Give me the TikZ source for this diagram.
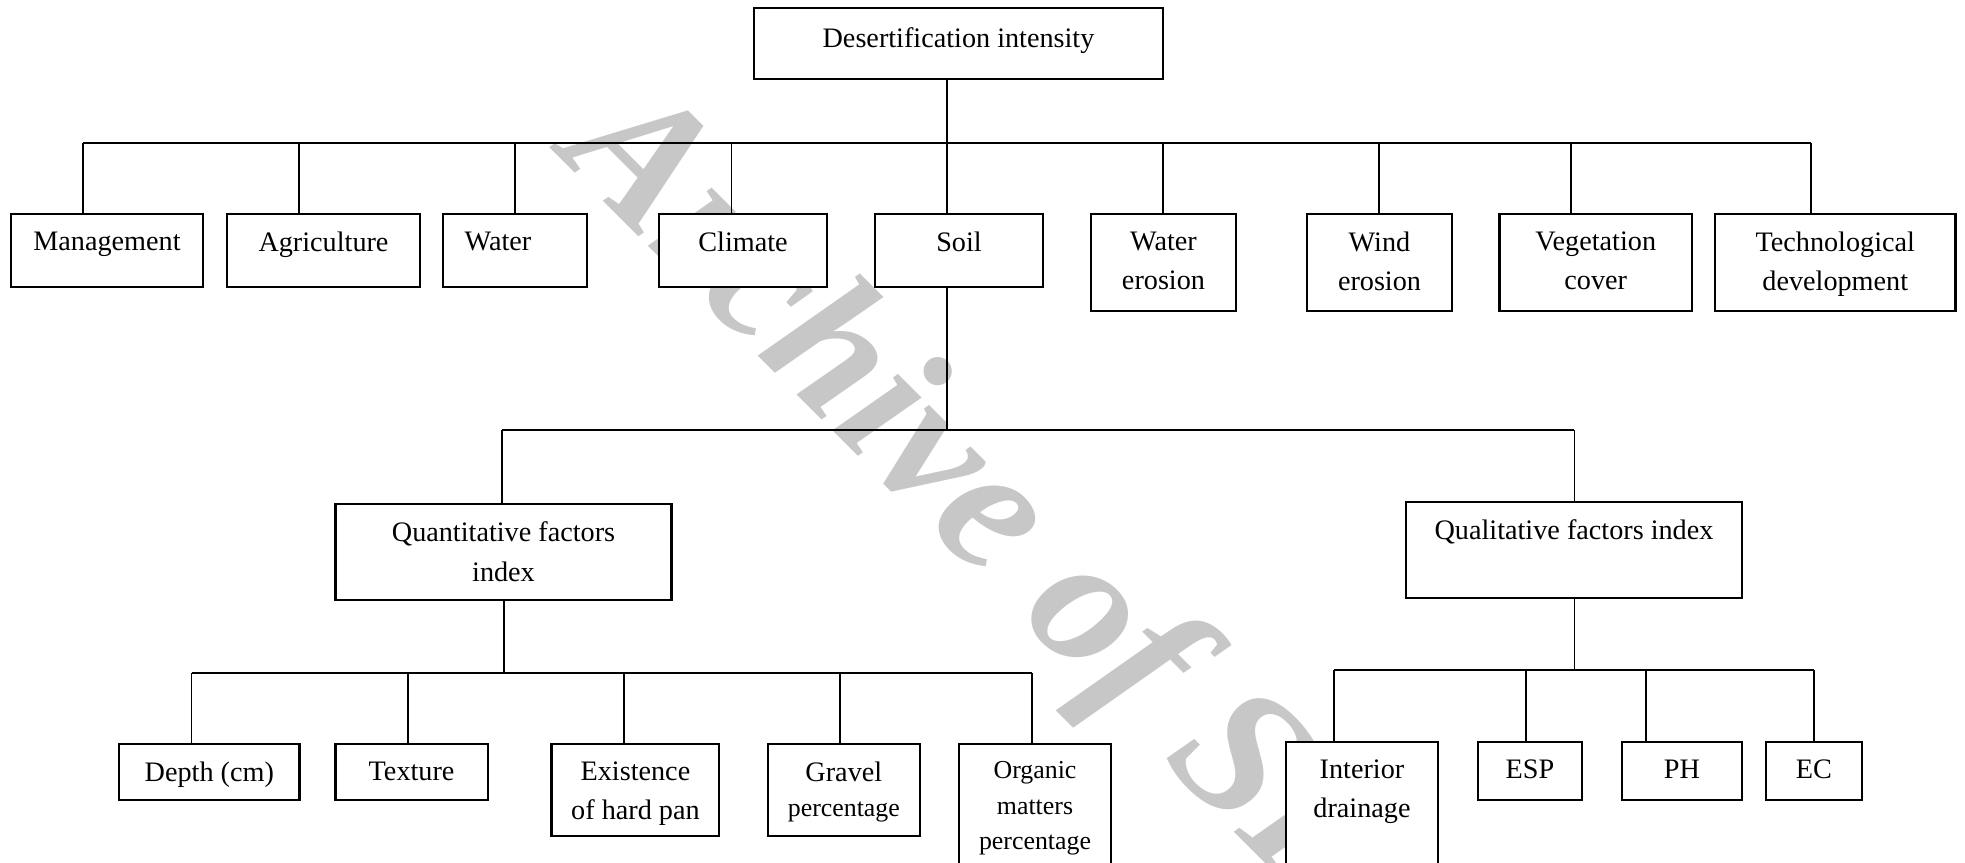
\documentclass[tikz,border=0pt]{standalone}
\usepackage{fontspec}
\setmainfont{Liberation Serif}
\newcommand{\pxunit}{0.4255pt}
\tikzset{
  factorbox/.style={draw, fill=white, line width=1pt, inner sep=0pt},
  factortext/.style={anchor=north, align=center, inner sep=0pt,
    font=\fontsize{12}{16.8}\selectfont},
  branch/.style={line width=0.75pt},
  watermark/.style={anchor=base west, rotate=-45, inner sep=0pt,
    text=black!22, font=\fontsize{80}{80}\selectfont\bfseries\itshape}
}
% box with its text set near the top edge
\newcommand{\factor}[7][]{%
  \node[factorbox, minimum width={(#5-#3)*\pxunit},
        minimum height={(#6-#4)*\pxunit}]
    (#2) at ({(#3+#5)/2},{(#4+#6)/2}) {};
  \node[factortext, #1] (#2-t) at ([yshift=-18.5*\pxunit]#2.north) {#7};
}
\begin{document}
\begin{tikzpicture}[x=\pxunit, y=-\pxunit]

  \path[use as bounding box] (0,0) rectangle (1965,862);
  \clip (0,0) rectangle (1965,862);

  \node[watermark] (wm) at (556,154) {Archive of SID};

  % trunks and buses
  \coordinate (rootB) at (947,142.7);
  \coordinate (soilB) at (947,430);
  \coordinate (quantB) at (504,672.7);
  \coordinate (qualB) at (1574.4,670);

  % root
  \factor[yshift=-2*\pxunit]{top}{754}{8}{1163}{79}{Desertification intensity}

  % first level
  \factor{mgmt}{11}{214}{203}{287}{Management}
  \factor{agri}{227}{214}{420}{287}{Agriculture}
  \factor[xshift=-17*\pxunit]{water}{443}{214}{587}{287}{Water}
  \factor{climate}{659}{214}{827}{287}{Climate}
  \factor{soil}{875}{214}{1043}{287}{Soil}
  \factor{werosion}{1091}{214}{1236}{311}{Water\\erosion}
  \factor{wind}{1307}{214}{1452}{311}{Wind\\erosion}
  \factor{veg}{1499.5}{214}{1692}{311}{Vegetation\\cover}
  \factor{tech}{1715}{214}{1955.5}{311}{Technological\\development}

  % soil indices
  \factor{quant}{335.4}{504}{671.6}{600}{Quantitative factors\\index}
  \factor{qual}{1406}{502}{1742}{598}{Qualitative factors index}

  % quantitative factors
  \factor{depth}{119}{744}{299.6}{800}{Depth (cm)}
  \factor{texture}{335.4}{744}{487.7}{800}{Texture}
  \factor{exist}{551.6}{744}{719.3}{836}{Existence\\of hard pan}
  \factor{gravel}{767.7}{744}{920}{836}%
    {Gravel\\[-1.8pt]{\fontsize{11}{15}\selectfont percentage}}
  \factor[font=\fontsize{11}{15}\selectfont]{organic}{959}{744}{1111}{900}%
    {Organic\\matters\\percentage}

  % qualitative factors
  \factor{interior}{1286}{742}{1438}{900}{Interior\\drainage}
  \factor{esp}{1478}{742}{1582}{800}{ESP}
  \factor{ph}{1622}{742}{1742}{800}{PH}
  \factor{ec}{1766}{742}{1862}{800}{EC}

  \draw[branch] (top.south -| rootB) -- (rootB);
  \draw[branch] (soil.south -| soilB) -- (soilB);
  \draw[branch] (quant.south -| quantB) -- (quantB);
  \draw[branch] (qual.south -| qualB) -- (qualB);

  % buses and drops
  \foreach \n/\x in {mgmt/83, agri/299, water/515, climate/731.5, soil/947,
                     werosion/1163, wind/1379, veg/1571, tech/1811}
    \draw[branch] (\x,142.7) -- (\n.north -| \x,0);
  \draw[branch] (83,142.7) -- (1811,142.7);

  \draw[branch] (501.8,430) -- (quant.north -| 501.8,0);
  \draw[branch] (qualB |- soilB) -- (qual.north -| qualB);
  \draw[branch] (501.8,430) -- (qualB |- soilB);

  \foreach \n/\x in {depth/191.6, texture/407.7, exist/623.9,
                     gravel/840, organic/1032}
    \draw[branch] (\x,672.7) -- (\n.north -| \x,0);
  \draw[branch] (191.6,672.7) -- (1032,672.7);

  \foreach \n/\x in {interior/1334, esp/1526, ph/1646, ec/1814}
    \draw[branch] (\x,670) -- (\n.north -| \x,0);
  \draw[branch] (1334,670) -- (1814,670);

\end{tikzpicture}
\end{document}
